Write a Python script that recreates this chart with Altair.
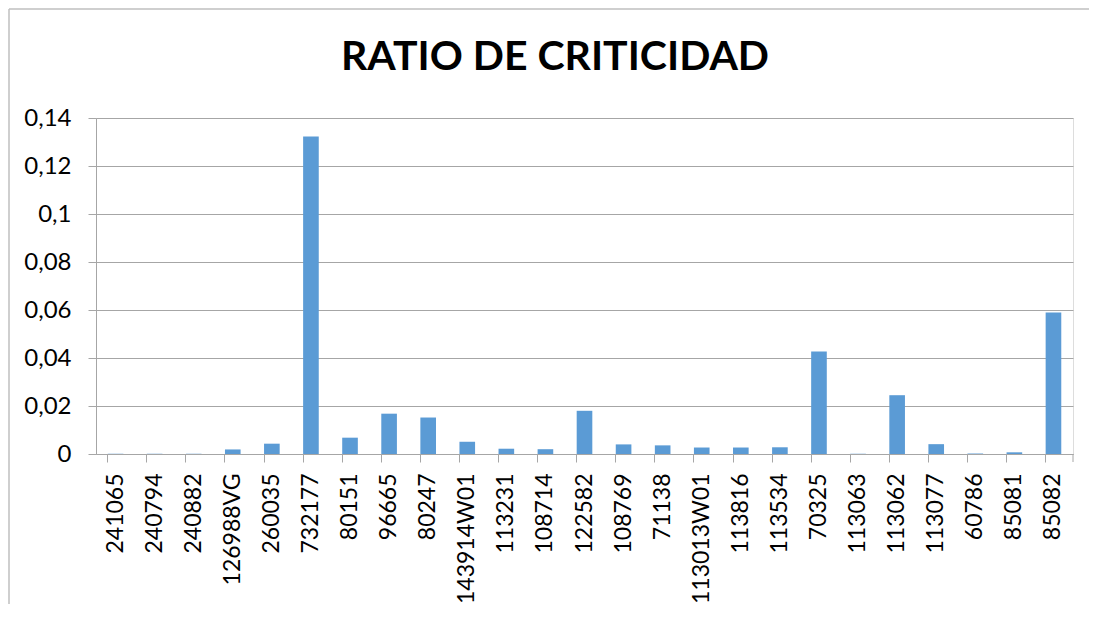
import altair as alt
import pandas as pd

categories = ["241065", "240794", "240882", "126988VG", "260035", "732177", "80151",
              "96665", "80247", "143914W01", "113231", "108714", "122582", "108769",
              "71138", "113013W01", "113816", "113534", "70325", "113063", "113062",
              "113077", "60786", "85081", "85082"]
values = [0.0001, 0.0001, 0.0001, 0.0019, 0.0043, 0.1323, 0.0068,
          0.0168, 0.0152, 0.0051, 0.0022, 0.0020, 0.0180, 0.0040,
          0.0036, 0.0027, 0.0027, 0.0028, 0.0427, 0.0001, 0.0245,
          0.0041, 0.0002, 0.0007, 0.0590]
y_ticks = [0, 0.02, 0.04, 0.06, 0.08, 0.1, 0.12, 0.14]
title_text = "RATIO DE CRITICIDAD"

df = pd.DataFrame({"cat": categories, "val": values})
one = pd.DataFrame({"k": [0]})

W, H = 977, 336
FONT = "Lato"
GRID = "#A6A6A6"

bars = alt.Chart(df).mark_bar(color="#5B9BD5").encode(
    x=alt.X("cat:N", sort=categories, title=None,
            scale=alt.Scale(paddingInner=0.6, paddingOuter=0.3),
            axis=alt.Axis(labelAngle=-90, labelAlign="right", labelBaseline="middle",
                          labelFontSize=23, labelFont=FONT, labelColor="#000000",
                          labelPadding=11, tickSize=8, tickColor=GRID, domainColor=GRID,
                          bandPosition=0, labelFlush=False, labelOverlap=False,
                          labelBound=False)),
    y=alt.Y("val:Q", title=None,
            scale=alt.Scale(domain=[0, 0.14], nice=False),
            axis=alt.Axis(values=y_ticks, labelExpr="replace(toString(datum.value), '.', ',')",
                          labelFontSize=24, labelFont=FONT, labelColor="#000000",
                          labelPadding=17, tickSize=8, tickColor=GRID, domainColor=GRID,
                          gridColor=GRID, grid=True, labelBaseline="middle")),
)

end_tick = alt.Chart(one).mark_rule(color=GRID, strokeWidth=1).encode(
    x=alt.value(W), y=alt.value(H), y2=alt.value(H + 8))

title = alt.Chart(one).mark_text(text=title_text, font=FONT, fontSize=41,
                                 fontWeight="bold", color="#000000",
                                 align="center", baseline="alphabetic").encode(
    x=alt.value(459), y=alt.value(-48))

border_left = alt.Chart(one).mark_rule(color="#BFBFBF", strokeWidth=1.5).encode(
    x=alt.value(-87), y=alt.value(-109), y2=alt.value(H + 170))
border_top = alt.Chart(one).mark_rule(color="#BFBFBF", strokeWidth=1.5).encode(
    x=alt.value(-87), x2=alt.value(W + 40), y=alt.value(-109))

chart = alt.layer(bars, end_tick, title, border_left, border_top).properties(
    width=W, height=H,
    autosize=alt.AutoSizeParams(type="none"),
    padding={"left": 88, "top": 110, "right": 16, "bottom": 150},
).configure_view(stroke=None).configure(background="white")

chart.save("out.html", embed_options={"renderer": "svg", "actions": False})
